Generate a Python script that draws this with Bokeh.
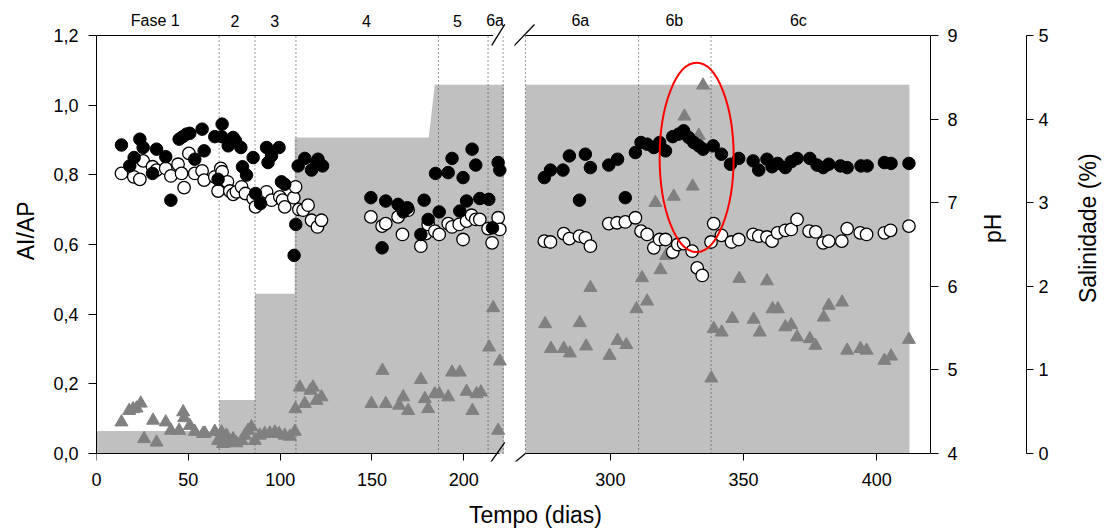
import math
from bokeh.plotting import figure
from bokeh.models import (Range1d, LinearAxis, FixedTicker, CustomJSTickFormatter,
                          Label, Arrow)
from bokeh.layouts import row, column
from bokeh.embed import file_html
from bokeh.resources import INLINE
from bokeh.core.properties import value

FONT = "Liberation Sans"

# ---------------- data ----------------
# salinity (%) steps, gray area (two panels of the broken time axis)
sal_day = [0, 66.8, 66.8, 86.3, 86.3, 107.9, 107.9, 180.9, 184.2, 221.8, 268.1, 412.3]
sal_val = [0.27, 0.27, 0.64, 0.64, 1.91, 1.91, 3.78, 3.78, 4.41, 4.41, 4.41, 4.41]

# phase boundaries (days) and phase names
phase_bounds = [66.8, 86.3, 108.6, 186.2, 213.2, 221.4, 268.1, 310.6, 337.8]
phase_left_names = ["Fase 1", "2", "3", "4", "5", "6a"]
phase_left_day = [32, 75.4, 97, 147, 196.5, 217]
phase_right_names = ["6a", "6b", "6c"]
phase_right_day = [288.7, 324, 370.6]

# pH (filled circles)
ph1_day = [13.6, 18.1, 20.5, 23.6, 25.4, 30.5, 32.7, 37.7, 40.5, 45.0, 47.0, 49.0, 50.8, 53.5,
           57.5, 58.6, 64.4, 66.2, 68.1, 68.4, 71.7, 74.4, 75.7, 78.6, 79.5, 81.7, 85.3, 86.6,
           89.3, 92.6, 93.4, 95.3, 99.4, 100.7, 102.5, 107.6, 108.5, 109.8, 113.4, 117.1, 119.8,
           120.6, 123.1,
           149.4, 155.5, 157.5, 164.2, 167.0, 169.3, 176.6, 178.4, 180.6, 184.6, 186.6, 191.5,
           193.6, 197.8, 199.6, 201.5, 204.5, 206.5, 208.7, 213.6, 215.6, 218.7, 219.6,
           275.2, 277.5, 282.2, 284.6, 288.4, 290.6, 292.5, 299.4, 302.7, 305.6, 309.4, 311.5,
           313.8, 316.3, 318.5, 320.7, 323.4, 325.6, 327.5, 329.4, 331.3, 333.2, 334.8, 338.6,
           341.7, 345.1, 348.2, 353.6, 355.7, 358.8, 360.7, 362.8, 365.7, 367.9, 370.1, 374.9,
           377.6, 379.9, 382.0, 386.4, 388.9, 394.1, 396.4, 402.9, 405.4, 412.1]
ph1_val = [7.69, 7.44, 7.54, 7.76, 7.66, 7.35, 7.64, 7.55, 7.03, 7.76, 7.79, 7.82, 7.83, 7.52,
           7.88, 7.62, 7.79, 7.28, 7.79, 7.94, 7.68, 7.78, 7.74, 7.66, 7.43, 7.33, 7.54, 7.11,
           6.99, 7.66, 7.48, 7.56, 7.66, 7.25, 7.22, 6.37, 6.74, 7.44, 7.53, 7.39, 7.48,
           7.52, 7.44,
           7.06, 6.46, 7.02, 6.98, 6.89, 6.94, 6.62, 7.03, 6.80, 7.35, 6.89, 7.36,
           7.53, 6.90, 7.30, 7.02, 7.64, 7.45, 7.05, 7.04, 6.70, 7.48, 7.39,
           7.30, 7.39, 7.39, 7.56, 7.03, 7.58, 7.42, 7.45, 7.52, 7.06, 7.60, 7.72,
           7.70, 7.66, 7.72, 7.62, 7.79, 7.82, 7.86, 7.78, 7.72, 7.68, 7.64, 7.68,
           7.58, 7.46, 7.53, 7.50, 7.39, 7.52, 7.43, 7.47, 7.42, 7.49, 7.53, 7.53,
           7.45, 7.42, 7.46, 7.44, 7.42, 7.44, 7.44, 7.48, 7.47, 7.47]

# pH (open circles)
ph2_day = [13.6, 20.3, 23.6, 25.4, 30.5, 32.7, 37.7, 40.5, 44.4, 46.3, 47.7, 50.3, 53.5, 57.5,
           58.6, 64.4, 66.2, 67.7, 68.4, 71.3, 72.6, 74.4, 76.2, 79.0, 81.1, 85.3, 86.6, 92.6,
           95.3, 99.8, 101.3, 102.5, 107.4, 108.4, 110.2, 112.5, 115.2, 117.1, 120.3, 122.5,
           149.4, 155.5, 157.5, 164.2, 166.6, 169.7, 176.6, 179.3, 180.6, 184.2, 186.6, 191.5,
           193.6, 197.5, 199.6, 201.5, 204.2, 206.5, 208.7, 213.2, 215.4, 218.7, 219.6,
           275.2, 277.5, 282.5, 284.6, 288.4, 290.6, 292.5, 299.4, 302.5, 305.6, 309.4, 311.5,
           313.8, 316.3, 318.5, 320.7, 323.4, 325.3, 327.5, 330.7, 332.6, 334.5, 337.8, 338.8,
           341.7, 345.5, 348.2, 353.6, 355.7, 358.8, 360.7, 362.8, 365.7, 367.9, 370.1, 374.6,
           377.1, 379.9, 382.0, 386.9, 388.9, 393.8, 396.2, 402.9, 405.2, 412.1]
ph2_val = [7.35, 7.31, 7.28, 7.50, 7.43, 7.39, 7.41, 7.32, 7.46, 7.35, 7.18, 7.59, 7.35, 7.38,
           7.27, 7.31, 7.14, 7.41, 7.37, 7.25, 7.14, 7.10, 7.13, 7.19, 7.11, 7.05, 6.95, 7.13,
           7.03, 7.07, 7.03, 6.95, 7.06, 7.19, 6.92, 6.91, 6.97, 6.79, 6.71, 6.79,
           6.83, 6.72, 6.75, 6.83, 6.62, 6.91, 6.48, 6.63, 6.74, 6.66, 6.62, 6.75,
           6.71, 6.74, 6.56, 6.78, 6.85, 6.80, 6.80, 6.69, 6.52, 6.82, 6.68,
           6.54, 6.53, 6.63, 6.57, 6.60, 6.58, 6.48, 6.75, 6.76, 6.77, 6.82, 6.66,
           6.62, 6.46, 6.56, 6.56, 6.41, 6.50, 6.51, 6.42, 6.22, 6.13, 6.53, 6.75,
           6.61, 6.53, 6.56, 6.62, 6.60, 6.59, 6.54, 6.64, 6.67, 6.68, 6.80, 6.66,
           6.65, 6.52, 6.54, 6.54, 6.69, 6.64, 6.62, 6.64, 6.67, 6.72]

# AI/AP (triangles)
ai_day = [13.6, 17.8, 19.9, 21.8, 24.1, 25.9, 30.8, 32.7, 37.7, 40.5, 45.0, 47.2, 47.7, 50.8,
          53.5, 58.0, 59.0, 64.4, 66.2, 68.1, 68.9, 70.8, 72.6, 74.4, 76.2, 79.0, 80.8, 82.5,
          84.4, 86.2, 88.9, 91.6, 94.4, 97.1, 99.4, 102.5, 105.3, 108.0, 108.3, 110.7, 113.4,
          116.5, 117.9, 119.8, 122.5,
          149.7, 155.7, 157.5, 164.8, 167.0, 169.7, 176.6, 178.8, 180.6, 184.2, 186.6, 191.5,
          193.6, 197.8, 201.5, 204.7, 206.9, 209.3, 213.8, 216.0, 218.7, 219.6,
          275.5, 277.7, 282.5, 284.8, 288.5, 290.9, 292.5, 299.7, 302.7, 306.0, 309.8, 311.9,
          313.8, 316.9, 318.8, 320.9, 323.8, 327.8, 330.9, 333.2, 334.8, 337.9, 338.8, 341.8,
          345.8, 348.4, 353.8, 356.1, 358.8, 360.9, 362.9, 365.7, 367.9, 370.1, 374.9, 377.0,
          380.1, 382.0, 387.0, 388.9, 393.9, 396.2, 402.9, 405.4, 412.1]
ai_val = [0.090, 0.123, 0.128, 0.130, 0.144, 0.042, 0.095, 0.032, 0.090, 0.066, 0.066, 0.119,
          0.102, 0.080, 0.063, 0.057, 0.058, 0.063, 0.037, 0.061, 0.028, 0.052, 0.032, 0.042,
          0.030, 0.037, 0.052, 0.066, 0.076, 0.037, 0.052, 0.057, 0.058, 0.061, 0.057, 0.052,
          0.049, 0.063, 0.128, 0.190, 0.143, 0.181, 0.190, 0.152, 0.162,
          0.143, 0.238, 0.143, 0.138, 0.162, 0.123, 0.212, 0.157, 0.128, 0.171, 0.171, 0.162,
          0.233, 0.233, 0.178, 0.123, 0.171, 0.176, 0.305, 0.418, 0.066, 0.265,
          0.372, 0.301, 0.301, 0.288, 0.375, 0.308, 0.476, 0.281, 0.324, 0.312, 0.415, 0.504,
          0.437, 0.720, 0.527, 0.568, 0.738, 0.968, 0.767, 0.913, 1.057, 0.216, 0.358, 0.348,
          0.387, 0.502, 0.385, 0.348, 0.495, 0.415, 0.415, 0.363, 0.369, 0.334, 0.329, 0.310,
          0.391, 0.425, 0.434, 0.296, 0.301, 0.296, 0.267, 0.279, 0.327]

ai_ticks = [0, 0.2, 0.4, 0.6, 0.8, 1.0, 1.2]
ph_ticks = [4, 5, 6, 7, 8, 9]
sal_ticks = [0, 1, 2, 3, 4, 5]
left_xticks = [0, 50, 100, 150, 200]
right_xticks = [300, 350, 400]

# the two pieces of the broken time axis (days)
LEFT_SPAN = (0, 221.8)
RIGHT_SPAN = (268.1, 420.2)

# highlighted region (red ellipse) in day / AI-AP units
ell_x, ell_y, ell_w, ell_h = 332.4, 0.85, 27.8, 0.543

# ---------------- layout constants ----------------
GRAY_AREA = "#c0c0c0"
TRI = "#808080"
H = 501
TOP = 8           # frame top (px) ; the 1.2 line is at 35 px
BOT = 40          # frame bottom at 461 px ; the 0 line is at 453 px
AXIS_PX = 418.0   # px between 0 and 1.2
UP = 27.0 / AXIS_PX
DOWN = 8.0 / AXIS_PX


def rng(lo, hi):
    span = hi - lo
    return Range1d(lo - span * DOWN, hi + span * UP)


def style_axis(ax, tick_out=8, standoff=10):
    ax.axis_line_color = "black"
    ax.major_tick_line_color = "black"
    ax.major_tick_out = tick_out
    ax.major_tick_in = 0
    ax.minor_tick_line_color = None
    ax.major_label_standoff = standoff
    ax.major_label_text_font = FONT
    ax.major_label_text_font_size = "18px"
    ax.major_label_text_color = "black"


def time_axis(fig, ticks, bounds):
    # axis line + ticks drawn at AI/AP = 0 (inside the frame)
    xa = fig.xaxis[0]
    style_axis(xa, tick_out=7, standoff=0)
    xa.ticker = FixedTicker(ticks=ticks)
    xa.bounds = bounds
    xa.fixed_location = 0
    xa.major_label_text_font_size = "0px"
    xa.formatter = CustomJSTickFormatter(code="return '';")
    # tick labels in the panel below the frame
    lab = LinearAxis(ticker=FixedTicker(ticks=ticks), axis_line_color=None,
                     major_tick_line_color=None, minor_tick_line_color=None,
                     major_tick_out=0, major_tick_in=0, major_label_standoff=11,
                     major_label_text_font=FONT, major_label_text_font_size="18px",
                     major_label_text_color="black")
    fig.add_layout(lab, "below")


def draw_data(fig, span):
    lo, hi = span
    sd = [d for d in sal_day if lo <= d <= hi]
    sv = [v for d, v in zip(sal_day, sal_val) if lo <= d <= hi]
    fig.varea(x=sd, y1=0, y2=sv, fill_color=GRAY_AREA, y_range_name="sal")
    fig.segment(x0=phase_bounds, y0=0, x1=phase_bounds, y1=1.2, line_color="#333333",
                line_width=1, line_dash="1 3")
    fig.scatter(ai_day, ai_val, marker="triangle", size=13, fill_color=TRI, line_color=TRI)
    fig.scatter(ph2_day, ph2_val, marker="circle", size=12.5, fill_color="white",
                line_color="black", line_width=1.3, y_range_name="ph")
    fig.scatter(ph1_day, ph1_val, marker="circle", size=12.5, fill_color="black",
                line_color="black", y_range_name="ph")


def top_line(fig, x0, x1):
    fig.segment(x0=[x0], y0=[1.2], x1=[x1], y1=[1.2], line_color="black", line_width=1)


def phase_labels(fig, names, days):
    for n, d in zip(names, days):
        fig.add_layout(Label(x=d, y=1.2, y_offset=15, text=n, text_align="center",
                             text_baseline="middle", text_font=FONT,
                             text_font_size="16px", text_color="black"))


def slash(fig, x0, y0, x1, y1):
    fig.add_layout(Arrow(end=None, x_start=x0, y_start=y0, x_end=x1, y_end=y1,
                         line_color="black", line_width=1.3))


def make_panel(width, xr, border_left, border_right, y_axis_location, span):
    fig = figure(width=width, height=H, x_range=xr, y_range=rng(0, 1.2),
                 output_backend="svg", toolbar_location=None, y_axis_location=y_axis_location,
                 min_border_left=border_left, min_border_right=border_right,
                 min_border_top=TOP, min_border_bottom=BOT, outline_line_color=None)
    fig.extra_y_ranges = {"ph": rng(4, 9), "sal": rng(0, 5)}
    fig.grid.visible = False
    draw_data(fig, span)
    return fig


def text_fig(width, cx, cy, txt, size="23px", angle=math.pi / 2, height=H):
    f = figure(width=width, height=height, x_range=Range1d(0, width),
               y_range=Range1d(0, height), output_backend="svg", toolbar_location=None,
               x_axis_location=None, y_axis_location=None, min_border=0,
               outline_line_color=None)
    f.grid.visible = False
    f.text(x=[cx], y=[height - cy], text=[txt], angle=angle, text_font=value(FONT),
           text_font_size=size, text_align="center", text_baseline="middle",
           text_color="black")
    return f


# ---------------- AI/AP title ----------------
ailab = text_fig(45, 25, 246, "AI/AP")

# ---------------- left panel (0 .. ~222 days) ----------------
left = make_panel(469, Range1d(0, 227.6), 51, 0, "left", LEFT_SPAN)
ya = left.yaxis[0]
style_axis(ya, tick_out=8, standoff=10)
ya.ticker = FixedTicker(ticks=ai_ticks)
ya.bounds = (0, 1.2)
ya.formatter = CustomJSTickFormatter(code="return tick.toFixed(1).replace('.', ',');")
time_axis(left, left_xticks, (0, 219.5))
top_line(left, 0, 216)
phase_labels(left, phase_left_names, phase_left_day)
slash(left, 215.2, 1.1714, 222.3, 1.2317)
slash(left, 214.2, -0.0287, 222.3, 0.0316)

# ---------------- right panel (~268 .. 420 days) ----------------
right = make_panel(456, Range1d(264.0, 420.2), 0, 40, None, RIGHT_SPAN)
right.ellipse(x=[ell_x], y=[ell_y], width=[ell_w], height=[ell_h], fill_color=None,
              line_color="red", line_width=2)
time_axis(right, right_xticks, RIGHT_SPAN)
ph_axis = LinearAxis(y_range_name="ph", ticker=FixedTicker(ticks=ph_ticks), bounds=(4, 9))
style_axis(ph_axis, tick_out=8, standoff=9)
right.add_layout(ph_axis, "right")
top_line(right, RIGHT_SPAN[0], RIGHT_SPAN[1])
phase_labels(right, phase_right_names, phase_right_day)
slash(right, 263.6, 1.1685, 271.5, 1.2317)
slash(right, 263.6, -0.0287, 268.1, 0.0)

# ---------------- pH title ----------------
phlab = text_fig(50, 22, 243, "pH")

# ---------------- salinity axis ----------------
salfig = figure(width=30, height=H, x_range=Range1d(0, 1), y_range=rng(0, 5),
                output_backend="svg", toolbar_location=None, x_axis_location=None,
                y_axis_location="right", min_border_left=6, min_border_right=23,
                min_border_top=TOP, min_border_bottom=BOT, outline_line_color=None)
salfig.grid.visible = False
sa = salfig.yaxis[0]
style_axis(sa, tick_out=7, standoff=5)
sa.ticker = FixedTicker(ticks=sal_ticks)
sa.bounds = (0, 5)

# ---------------- salinity title ----------------
sallab = text_fig(59, 37, 243, "Salinidade (%)")

# ---------------- x-axis title ----------------
bottom = text_fig(1109, 535, 13.5, "Tempo (dias)", angle=0, height=27)

p = column(row(ailab, left, right, phlab, salfig, sallab), bottom)
open("out.html", "w").write(file_html(p, INLINE))
